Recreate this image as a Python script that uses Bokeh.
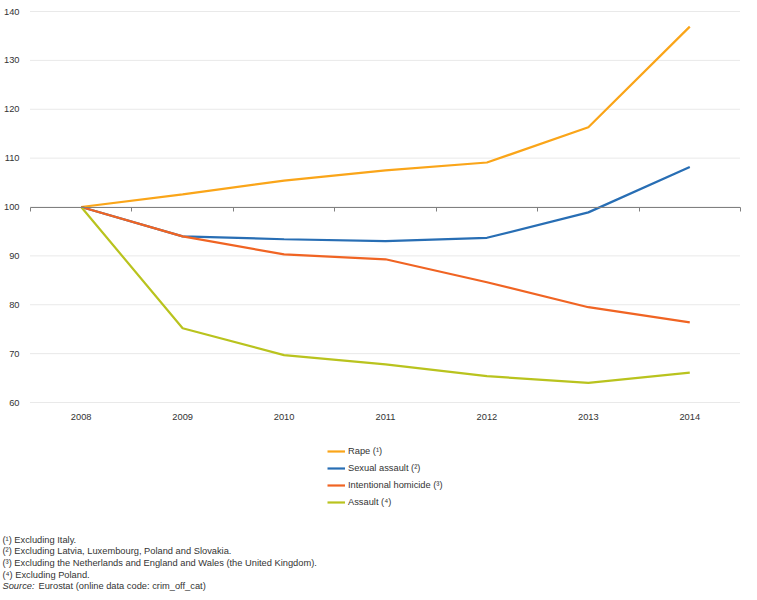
from bokeh.plotting import figure
from bokeh.models import (FixedTicker, LinearAxis, Label, Legend, LegendItem, Range1d)
from bokeh.embed import file_html
from bokeh.resources import INLINE

years = ["2008", "2009", "2010", "2011", "2012", "2013", "2014"]
rape = [100, 102.6, 105.4, 107.5, 109.1, 116.3, 136.9]
sexual_assault = [100, 94.0, 93.4, 93.0, 93.7, 98.9, 108.2]
homicide = [100, 94.0, 90.3, 89.3, 84.6, 79.5, 76.4]
assault = [100, 75.2, 69.7, 67.8, 65.4, 64.0, 66.1]
series_names = ["Rape (\u00b9)", "Sexual assault (\u00b2)", "Intentional homicide (\u00b3)", "Assault (\u2074)"]
colors = ["#FAA519", "#286EB4", "#F06423", "#B9C31E"]
yticks = [60, 70, 80, 90, 100, 110, 120, 130, 140]
footnotes = [
    "(\u00b9) Excluding Italy.",
    "(\u00b2) Excluding Latvia, Luxembourg, Poland and Slovakia.",
    "(\u00b3) Excluding the Netherlands and England and Wales (the United Kingdom).",
    "(\u2074) Excluding Poland.",
]
source_label = "Source:"
source_text = "Eurostat (online data code: crim_off_cat)"

FONT = "Liberation Sans"
FS = "9.3px"
TXT = "#333333"

# canvas geometry (frame covers the whole canvas)
W, H = 741, 592
PLOT_L, PLOT_R = 30, 740        # plotting area, canvas px
PLOT_T, PLOT_B = 11, 402        # y of 140 and 60
n = len(years)
PX_X = (PLOT_R - PLOT_L) / n
PX_Y = (PLOT_B - PLOT_T) / (yticks[-1] - yticks[0])
X_LO, X_HI = -0.5, n - 0.5
X0 = X_LO - PLOT_L / PX_X
X1 = X_HI + (W - PLOT_R) / PX_X
Y0 = yticks[0] - (H - PLOT_B) / PX_Y
Y1 = yticks[-1] + PLOT_T / PX_Y


def xd(cx):
    return X0 + cx / PX_X


def yd(cy):
    return Y0 + (H - cy) / PX_Y


p = figure(width=W, height=H, output_backend="svg", toolbar_location=None,
           x_range=Range1d(X0, X1), y_range=Range1d(Y0, Y1),
           min_border_left=0, min_border_right=0, min_border_top=0, min_border_bottom=0,
           x_axis_location=None, y_axis_location=None)
p.outline_line_color = None
p.grid.visible = False

# dotted horizontal gridlines over the category span
p.segment(x0=[X_LO] * len(yticks), x1=[X_HI] * len(yticks), y0=yticks, y1=yticks,
          line_color="#d2d2d2", line_width=1, line_dash="1 1")

xs = list(range(n))
all_series = [rape, sexual_assault, homicide, assault]
renderers = []
for vals, c in zip(all_series, colors):
    renderers.append(p.line(x=xs, y=vals, line_color=c, line_width=2.2))

# y axis labels
yaxis = LinearAxis(fixed_location=X_LO, ticker=FixedTicker(ticks=yticks),
                   axis_line_color=None, major_tick_line_color=None, minor_tick_line_color=None,
                   major_label_standoff=5, major_label_text_font=FONT,
                   major_label_text_font_size=FS, major_label_text_color=TXT)
p.add_layout(yaxis, "left")

# x axis labels under the plotting area
xaxis = LinearAxis(fixed_location=yticks[0], ticker=FixedTicker(ticks=xs),
                   major_label_overrides={i: y for i, y in enumerate(years)},
                   axis_line_color=None, major_tick_line_color=None, minor_tick_line_color=None,
                   major_label_standoff=5, major_label_text_font=FONT,
                   major_label_text_font_size=FS, major_label_text_color=TXT)
p.add_layout(xaxis, "below")

# baseline at 100 with category boundary ticks
base_axis = LinearAxis(fixed_location=100, bounds=(X_LO, X_HI),
                       ticker=FixedTicker(ticks=[i - 0.5 for i in range(n + 1)]),
                       axis_line_color="#808080", axis_line_width=1,
                       major_tick_line_color="#808080", major_tick_out=4, major_tick_in=0,
                       minor_tick_line_color=None, major_label_standoff=0,
                       major_label_text_font_size="0px", major_label_text_color=None)
p.add_layout(base_axis, "below")

legend = Legend(items=[LegendItem(label=nm, renderers=[r]) for nm, r in zip(series_names, renderers)],
                location=(327, H - 508),
                orientation="vertical", border_line_color=None, background_fill_alpha=0,
                padding=0, margin=0, spacing=5, glyph_width=18, glyph_height=12,
                label_height=12, label_standoff=3,
                label_text_font=FONT, label_text_font_size=FS, label_text_color=TXT)
p.add_layout(legend, "center")

fy = 539
step = 11.7
for i, t in enumerate(footnotes):
    p.add_layout(Label(x=xd(2), y=yd(fy + i * step), text=t, text_font=FONT,
                       text_font_size=FS, text_color=TXT, text_baseline="middle"))
sy = fy + 4 * step
p.add_layout(Label(x=xd(2), y=yd(sy), text=source_label, text_font=FONT,
                   text_font_style="italic", text_font_size=FS, text_color=TXT,
                   text_baseline="middle"))
p.add_layout(Label(x=xd(38), y=yd(sy), text=source_text, text_font=FONT,
                   text_font_size=FS, text_color=TXT, text_baseline="middle"))

open("out.html", "w").write(file_html(p, INLINE))
